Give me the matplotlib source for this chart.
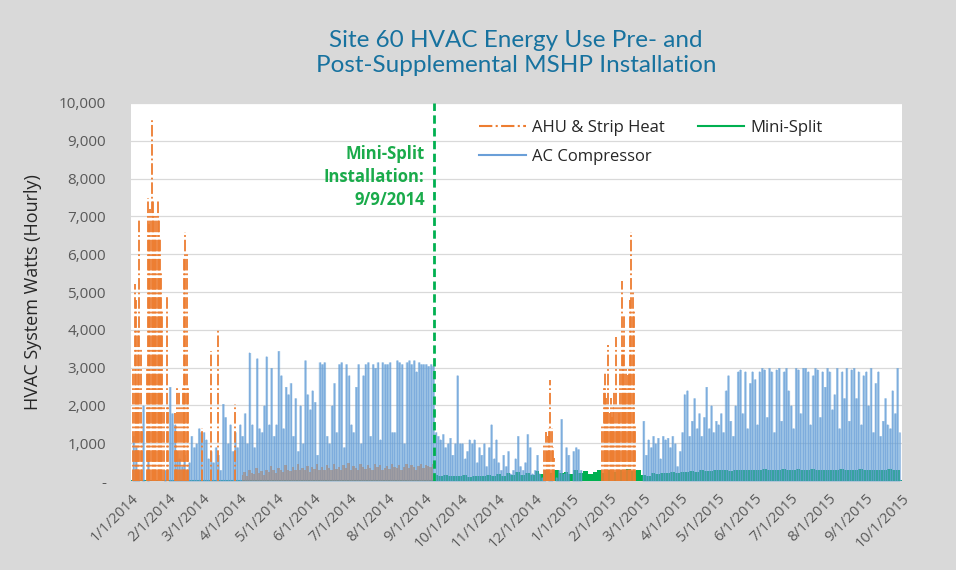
import numpy as np
import matplotlib
matplotlib.use("Agg")
import matplotlib.pyplot as plt
import matplotlib.dates as mdates
from matplotlib.lines import Line2D
from matplotlib.ticker import FuncFormatter
from datetime import datetime

# ---------------- data ----------------
start_date = datetime(2014, 1, 1)
end_date = datetime(2015, 10, 1)
install_date = datetime(2014, 9, 9)

# AC compressor: peak watts every 2 days starting 1/1/2014
ac_step_days = 2
ac_compressor_w = [
    # Jan 2014
    0, 1200, 900, 300, 0, 2000, 0, 600, 0, 0, 0, 0, 0, 0, 300, 0,
    # Feb
    2500, 1800, 1500, 800, 600, 400, 700, 300, 500, 1200, 900, 1000, 1400, 1300,
    # Mar
    1300, 1100, 600, 800, 500, 900, 700, 300, 2050, 1700, 1000, 1500, 800, 1300, 900,
    # Apr
    1500, 1200, 1800, 1000, 3400, 1500, 900, 3250, 1400, 1300, 2000, 3300, 1500, 3000, 1200,
    # May
    1500, 3450, 2800, 1400, 2500, 2300, 2600, 1200, 2200, 800, 2000, 1000, 3200, 2300, 1900, 2400,
    # Jun
    2100, 700, 3150, 3100, 3150, 1200, 1000, 2000, 2600, 1300, 3100, 3150, 900, 3100, 2800,
    # Jul
    1500, 1300, 2500, 3100, 1000, 2800, 3100, 3150, 1200, 3100, 3000, 3150, 1100, 3150, 3100,
    # Aug
    3100, 3150, 1300, 1300, 3200, 3150, 3100, 1000, 3150, 3200, 3100, 3200, 2900, 3150, 3100, 3100,
    # Sep
    3100, 3050, 3100, 3050, 1300, 1200, 1100, 1250, 900, 1000, 1150, 700, 1000, 2800, 1000,
    # Oct
    1000, 600, 800, 1100, 1000, 1100, 500, 900, 700, 1000, 400, 900, 1500, 600, 1100,
    # Nov
    500, 300, 700, 400, 800, 200, 300, 600, 1200, 400, 300, 500, 1250, 900, 200,
    # Dec
    300, 700, 200, 100, 300, 0, 100, 200, 0, 100, 300, 1650, 200, 900, 700, 0,
    # Jan 2015
    800, 900, 850, 300, 0, 0, 0, 0, 0, 0, 0, 0, 0, 0, 0,
    # Feb
    0, 0, 0, 0, 0, 0, 0, 0, 0, 0, 0, 0, 0, 0,
    # Mar
    1600, 700, 1100, 900, 1200, 1000, 1150, 600, 1200, 1100, 1150, 900, 1200, 1000, 400, 800,
    # Apr
    1300, 2300, 2400, 1200, 1600, 2200, 1400, 1800, 1200, 1700, 2500, 1400, 2000, 1300, 1600,
    # May
    1500, 1800, 1300, 2400, 2800, 1600, 1200, 2000, 2900, 2950, 1800, 2900, 1400, 2600, 2900,
    # Jun
    2700, 1500, 2900, 3000, 2950, 1700, 3000, 2900, 1300, 2950, 3000, 1600, 2900, 3000, 2400,
    # Jul
    2000, 1400, 3000, 2950, 1800, 3000, 3000, 2900, 1500, 2800, 3000, 2950, 1700, 2900, 2500, 3000,
    # Aug
    2900, 1900, 2300, 3000, 1400, 2900, 2200, 3000, 1600, 2950, 3000, 2200, 2900, 1500, 2800,
    # Sep
    2900, 2000, 3000, 1300, 2600, 2900, 1200, 1600, 2200, 1500, 1400, 2400, 1800, 3000, 1300,
]

# AHU & strip heat: daily peak watts on heating days (day offset from 1/1/2014)
ahu_days = [2, 3, 4, 5, 6, 7, 8, 9,
            13, 14, 15, 16, 17, 18, 19, 20, 21, 22, 23, 24, 25, 26, 27,
            30, 31, 36, 37, 38, 40, 41, 43, 44, 45, 46, 47,
            59, 66, 72, 86,
            342, 343, 344, 345, 346, 347, 348, 349, 350,
            390, 391, 392, 393, 394, 395, 396, 397, 398, 399, 400, 401, 402, 403,
            404, 405, 406, 407, 408, 409, 410, 411, 412, 413, 414, 415, 416, 417]
ahu_strip_w = [3000, 5200, 4800, 2500, 4000, 6900, 3500, 1500,
               3000, 7500, 6800, 7200, 9550, 7400, 7000, 6500, 7000, 7400, 6900, 6400, 5500, 4500, 2000,
               4900, 2000, 1800, 1500, 2500, 2400, 2000, 2500, 5900, 6600, 6000, 2500,
               1400, 3450, 4050, 2050,
               1000, 1300, 800, 1200, 1400, 2670, 1400, 900, 600,
               1500, 2500, 2900, 2200, 2000, 3600, 1800, 2200, 1700, 2000, 2400, 3800, 1500, 2000,
               1800, 3000, 5300, 3500, 4400, 2500, 3000, 2800, 3000, 4800, 6600, 5000, 4500, 1500]

# AHU fan (low level) every 2 days from day 92 to day 250
fan_start_day = 92
fan_w = [150, 250, 120, 300, 200, 180, 350, 220, 260, 150,
         300, 250, 400, 280, 200, 350, 300, 250, 420, 300,
         260, 380, 300, 450, 280, 350, 300, 400, 250, 380,
         320, 450, 300, 380, 280, 420, 350, 300, 450, 320,
         380, 300, 420, 350, 480, 300, 400, 350, 300, 450,
         380, 320, 420, 350, 300, 450, 380, 420, 300, 350,
         400, 320, 450, 380, 350, 420, 300, 380, 450, 350,
         420, 380, 300, 400, 450, 350, 420, 400, 380, 450]

# Mini-split: watts every 4 days starting 9/9/2014 (day 252)
ms_start_day = 252
ms_step_days = 4
mini_split_w = [150, 120, 160, 130, 140, 120, 150, 110, 130, 140, 120, 150, 130,
                180, 140, 220, 160, 250, 150, 200, 170,
                260, 180, 300, 200, 280, 220, 250, 190,
                300, 220, 260, 180, 240, 300, 200,
                280, 230, 300, 250, 320, 260, 300,
                150, 120, 200, 180, 220, 200, 250, 210,
                230, 250, 260, 240, 280, 270, 260, 280,
                280, 300, 270, 290, 300, 280, 290,
                300, 290, 310, 300, 280, 300, 310, 290,
                300, 310, 290, 300, 320, 300, 290, 300,
                300, 290, 310, 300, 290, 300, 310,
                290, 300, 280, 300, 290, 310, 300, 280]

y_ticks = [0, 1000, 2000, 3000, 4000, 5000, 6000, 7000, 8000, 9000, 10000]
title_text = "Site 60 HVAC Energy Use Pre- and\nPost-Supplemental MSHP Installation"
annot_text = "Mini-Split\nInstallation:\n9/9/2014"

# ---------------- drawing ----------------
BG = "#d9d9d9"
fig = plt.figure(figsize=(9.56, 5.70), dpi=100, facecolor=BG)
ax = fig.add_axes([131/956, 1-481/570, 771/956, 378/570])
ax.set_facecolor("white")

base = mdates.date2num(start_date)
ac_x = base + np.arange(len(ac_compressor_w)) * ac_step_days
fan_x = base + fan_start_day + np.arange(len(fan_w)) * 2
ms_x = base + ms_start_day + np.arange(len(mini_split_w)) * ms_step_days
ahu_x = base + np.array(ahu_days)

# mini-split zero baseline + fill
ax.plot([base, mdates.date2num(end_date)], [0, 0], color="#1aa38a", lw=2.2, zorder=2)
ax.fill_between(ms_x, 0, mini_split_w, step="mid", color="#00b050", lw=0, zorder=2)

# AC compressor
ax.fill_between(ac_x, 0, ac_compressor_w, step="mid", color="#5b9bd5", alpha=0.6,
                lw=0, zorder=3)
ax.vlines(ac_x, 0, ac_compressor_w, colors="#6a9fd8", lw=0.8, alpha=0.6, zorder=3)

# AHU fan (low level)
ax.fill_between(fan_x, 0, fan_w, step="mid", color="#a38577", alpha=0.6, lw=0, zorder=3.5)

# AHU & strip heat
ax.vlines(ahu_x, 0, ahu_strip_w, colors="#ed7d31", linestyles="-.", lw=1.3, zorder=4)

# installation line
ax.axvline(mdates.date2num(install_date), color="#00b050", lw=2, ls=(0, (3, 1.6)), zorder=5)
ax.text(mdates.date2num(install_date) - 8, 8050, annot_text, ha="right", va="center",
        color="#1aab4b", fontsize=12, fontweight="bold", family="Open Sans",
        linespacing=1.35, zorder=6)

# axes
ax.set_xlim(base, mdates.date2num(end_date))
ax.set_ylim(0, 10000)
ax.set_yticks(y_ticks)
ax.yaxis.set_major_formatter(FuncFormatter(lambda v, p: "-" if v == 0 else f"{int(v):,}"))
ax.grid(axis="y", color="#d9d9d9", lw=0.9, zorder=0)
ax.set_axisbelow(True)
for s in ax.spines.values():
    s.set_visible(False)

ax.xaxis.set_major_locator(mdates.MonthLocator(bymonthday=1))
ax.xaxis.set_major_formatter(FuncFormatter(lambda v, p: f"{mdates.num2date(v).month}/1/{mdates.num2date(v).year}"))
ax.tick_params(axis="both", length=0, colors="#595959")
ax.tick_params(axis="y", pad=18, labelsize=11)
ax.tick_params(axis="x", pad=7, labelsize=10.5)
for lab in ax.get_xticklabels():
    lab.set_rotation(45)
    lab.set_ha("right")
    lab.set_rotation_mode("anchor")
    lab.set_family("Open Sans")
for lab in ax.get_yticklabels():
    lab.set_family("Open Sans")

ax.set_ylabel("HVAC System Watts (Hourly)", fontsize=13, color="#262626",
              family="Open Sans", labelpad=12)

fig.text(516/956, 1-53/570, title_text, ha="center", va="center", fontsize=17.5,
         color="#17729f", family="Lato", linespacing=1.25)

handles = [
    Line2D([], [], color="#ed7d31", ls="-.", lw=1.5),
    Line2D([], [], color="#6a9fd8", lw=1.5),
    Line2D([], [], color="#00b050", lw=1.5),
]
labels = ["AHU & Strip Heat", "AC Compressor", "Mini-Split"]
leg = ax.legend(handles, labels, ncol=2, loc="upper left", bbox_to_anchor=(0.432, 0.995),
                frameon=False, handlelength=2.8, handletextpad=0.35, columnspacing=2.0,
                labelspacing=0.8, prop={"family": "Open Sans", "size": 12})
for t in leg.get_texts():
    t.set_color("#262626")

fig.savefig("out.png", dpi=100, facecolor=BG)
